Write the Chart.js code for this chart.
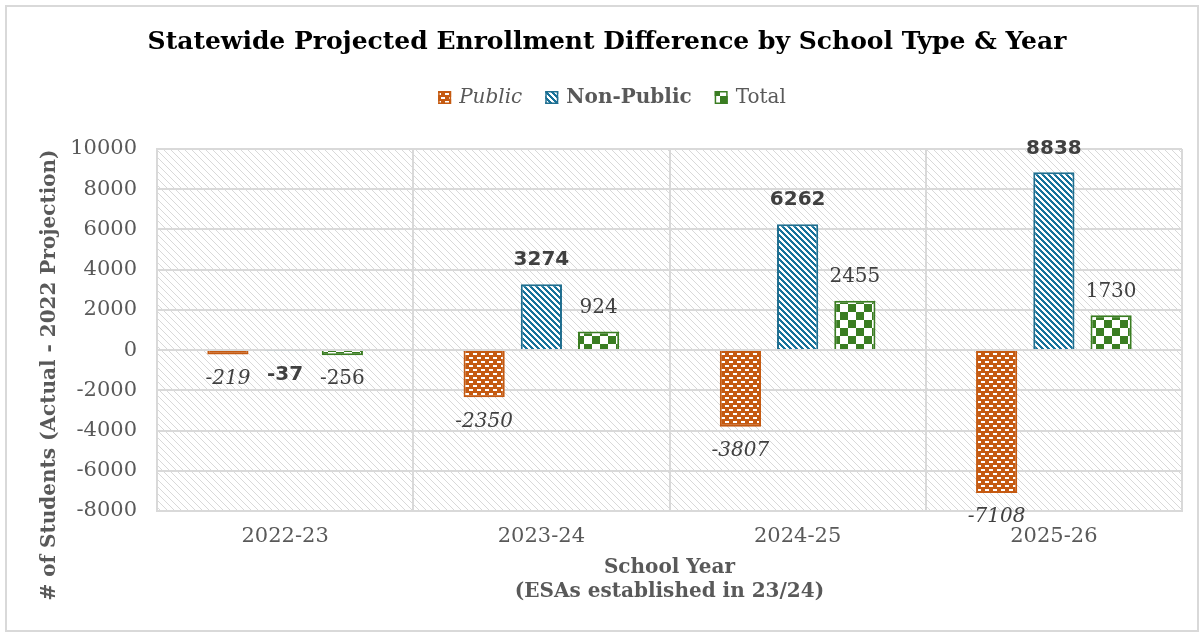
<!DOCTYPE html>
<html>
<head>
<meta charset="utf-8">
<script src="https://cdn.jsdelivr.net/npm/chart.js@4"></script>
<style>
  body { margin: 0; background: #ffffff; }
  canvas { display: block; }
</style>
</head>
<body>
<canvas id="enrollChart" width="1204" height="637"></canvas>
<script>
// data
const years = ["2022-23", "2023-24", "2024-25", "2025-26"];
const publicDiff = [-219, -2350, -3807, -7108];
const nonPublicDiff = [-37, 3274, 6262, 8838];
const totalDiff = [-256, 924, 2455, 1730];
const yMin = -8000;
const yMax = 10000;
const yStep = 2000;

const serif = "'DejaVu Serif', serif";
const sans = "'DejaVu Sans', sans-serif";
const grey = "#595959";
const labelGrey = "#404040";

// small tiles for the Excel-like fill patterns
function makeTile(w, h, draw) {
  let c = document.createElement("canvas");
  c.width = w;
  c.height = h;
  let g = c.getContext("2d");
  draw(g, w, h);
  return document.createElement("canvas").getContext("2d").createPattern(c, "repeat");
}

// orange with small white dashes (brick rows)
const publicFill = makeTile(8, 8, (g) => {
  g.fillStyle = "#c55a11";
  g.fillRect(0, 0, 8, 8);
  g.fillStyle = "#ffffff";
  g.fillRect(1, 1, 4, 2);
  g.fillRect(5, 5, 4, 2);
  g.fillRect(-3, 5, 4, 2);
});

// blue with white downward diagonals
const nonPublicFill = makeTile(6, 6, (g) => {
  g.fillStyle = "#17729b";
  g.fillRect(0, 0, 6, 6);
  g.fillStyle = "#ffffff";
  for (let y = 0; y < 6; y++) {
    for (let x = 0; x < 6; x++) {
      if (((x - y) % 6 + 6) % 6 < 3) g.fillRect(x, y, 1, 1);
    }
  }
});

// green checkerboard
const totalFill = makeTile(16, 16, (g) => {
  g.fillStyle = "#ffffff";
  g.fillRect(0, 0, 16, 16);
  g.fillStyle = "#3a7d22";
  g.fillRect(0, 0, 8, 8);
  g.fillRect(8, 8, 8, 8);
});

// light grey diagonal hatch for the plot area
const plotHatch = makeTile(7, 7, (g) => {
  g.fillStyle = "#ffffff";
  g.fillRect(0, 0, 7, 7);
  g.fillStyle = "#d9d9d9";
  for (let y = 0; y < 7; y++) {
    g.fillRect(y, y, 1, 1);
  }
});

const legendItems = [
  { text: "Public", font: "italic 20px " + serif, fill: publicFill, border: "#c55a11" },
  { text: "Non-Public", font: "bold 20px " + serif, fill: nonPublicFill, border: "#1f6e8f" },
  { text: "Total", font: "20px " + serif, fill: totalFill, border: "#3a7d22" },
];

const labelFonts = ["italic 20px " + serif, "bold 20px " + sans, "20px " + serif];

// frame, title, legend, y title, value labels
const decorPlugin = {
  id: "decor",
  beforeDraw(chart) {
    const { ctx, chartArea } = chart;
    ctx.save();
    ctx.fillStyle = plotHatch;
    ctx.fillRect(chartArea.left, chartArea.top, chartArea.right - chartArea.left, chartArea.bottom - chartArea.top);
    ctx.restore();
  },
  afterDraw(chart) {
    const { ctx } = chart;
    ctx.save();

    // outer frame
    ctx.strokeStyle = "#d9d9d9";
    ctx.lineWidth = 2;
    ctx.strokeRect(6, 6, 1192, 625);

    // title
    ctx.fillStyle = "#000000";
    ctx.font = "bold 25px " + serif;
    ctx.textAlign = "center";
    ctx.textBaseline = "middle";
    ctx.fillText("Statewide Projected Enrollment Difference by School Type & Year", 607, 42);

    // legend
    let sw = 13, gapIn = 8, gapOut = 23;
    let widths = legendItems.map((it) => {
      ctx.font = it.font;
      return ctx.measureText(it.text).width;
    });
    let total = widths.reduce((a, b) => a + b, 0) + legendItems.length * (sw + gapIn) + gapOut * (legendItems.length - 1);
    let x = 612 - total / 2;
    ctx.textAlign = "left";
    legendItems.forEach((it, i) => {
      ctx.fillStyle = it.fill;
      ctx.fillRect(x, 91, sw, sw);
      ctx.strokeStyle = it.border;
      ctx.lineWidth = 1.5;
      ctx.strokeRect(x + 0.75, 91.75, sw - 1.5, sw - 1.5);
      x += sw + gapIn;
      ctx.font = it.font;
      ctx.fillStyle = grey;
      ctx.fillText(it.text, x, 98);
      x += widths[i] + gapOut;
    });

    // y axis title
    ctx.translate(50, 375);
    ctx.rotate(-Math.PI / 2);
    ctx.font = "bold 20px " + serif;
    ctx.fillStyle = grey;
    ctx.textAlign = "center";
    ctx.fillText("# of Students (Actual - 2022 Projection)", 0, 0);
    ctx.setTransform(1, 0, 0, 1, 0, 0);

    // value labels
    ctx.textAlign = "center";
    ctx.fillStyle = labelGrey;
    chart.data.datasets.forEach((ds, di) => {
      let meta = chart.getDatasetMeta(di);
      ctx.font = labelFonts[di];
      meta.data.forEach((bar, i) => {
        let v = ds.data[i];
        let y = v >= 0 ? bar.y - 24 : bar.y + 24;
        ctx.fillText(String(v), bar.x, y);
      });
    });
    ctx.restore();
  },
};

let ctxChart = document.getElementById("enrollChart");
const config = {
  type: "bar",
  data: {
    labels: years,
    datasets: [
      {
        label: "Public",
        data: publicDiff,
        backgroundColor: publicFill,
        borderColor: "#c55a11",
        borderWidth: 2,
      },
      {
        label: "Non-Public",
        data: nonPublicDiff,
        backgroundColor: nonPublicFill,
        borderColor: "#1f6e8f",
        borderWidth: 2,
      },
      {
        label: "Total",
        data: totalDiff,
        backgroundColor: totalFill,
        borderColor: "#3a7d22",
        borderWidth: 2,
      },
    ],
  },
  options: {
    responsive: false,
    animation: false,
    devicePixelRatio: 1,
    categoryPercentage: 0.67,
    barPercentage: 0.72,
    layout: { padding: { left: 60, right: 22, top: 149, bottom: 0 } },
    plugins: {
      legend: { display: false },
      title: { display: false },
      tooltip: { enabled: false },
    },
    scales: {
      x: {
        afterFit(scale) {
          scale.height = 126;
        },
        grid: { color: "#d9d9d9", lineWidth: 2, drawTicks: false },
        border: { color: "#d9d9d9", width: 2 },
        ticks: { color: grey, font: { family: serif, size: 21 }, padding: 13 },
        title: {
          display: true,
          text: ["School Year", "(ESAs established in 23/24)"],
          color: grey,
          font: { family: serif, size: 20, weight: "bold", lineHeight: 1.2 },
          padding: { top: 0, bottom: 33 },
        },
      },
      y: {
        min: yMin,
        max: yMax,
        afterFit(scale) {
          scale.width = 97;
        },
        grid: { color: "#d9d9d9", lineWidth: 2, drawTicks: false },
        border: { color: "#d9d9d9", width: 2 },
        ticks: {
          stepSize: yStep,
          color: grey,
          font: { family: serif, size: 21 },
          padding: 20,
          callback: (v) => String(v),
        },
      },
    },
  },
  plugins: [decorPlugin],
};

let myChart = new Chart(ctxChart, config);
</script>
</body>
</html>
